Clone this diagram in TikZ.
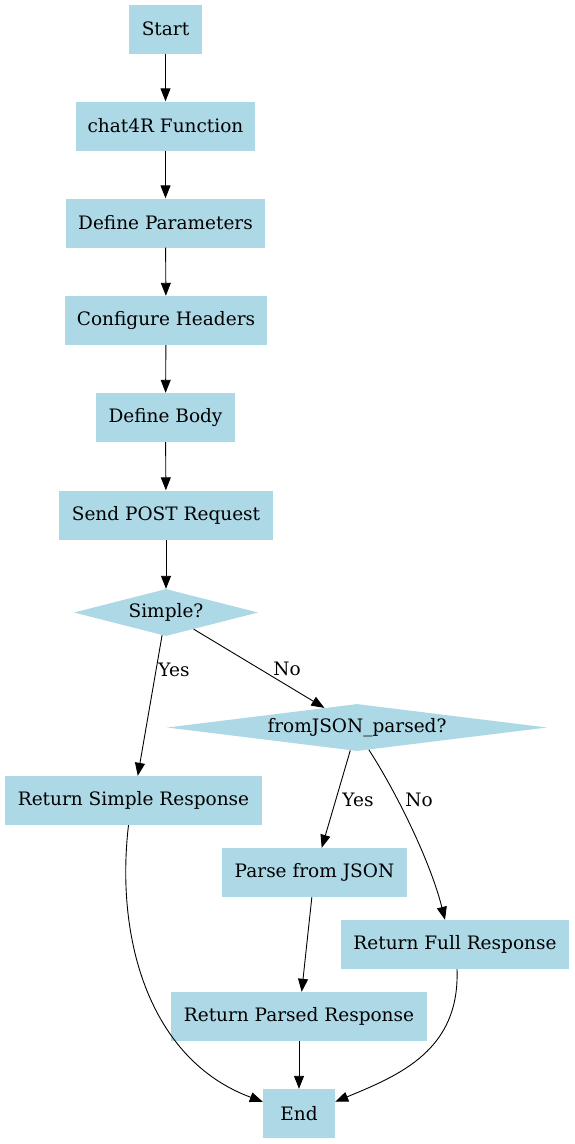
\documentclass[tikz,border=0pt]{standalone}
\usepackage{fontspec}
\setmainfont{DejaVu Serif}
\usetikzlibrary{shapes.geometric,arrows.meta,calc}
\definecolor{lblue}{HTML}{ADD8E6}
\begin{document}
\begin{tikzpicture}[x=1pt,y=-1pt,
  txt/.style={font=\fontsize{18.5}{21}\selectfont},
  boxn/.style={txt,fill=lblue,draw=none,inner sep=0pt,minimum height=49pt},
  decn/.style={txt,diamond,fill=lblue,draw=none,inner sep=0pt},
  lbl/.style={txt,inner sep=0pt},
  arr/.style={-{Triangle[length=13pt,width=10pt]},line width=0.9pt}]
\useasboundingbox (0,0) rectangle (575,1144);
\node[boxn,minimum width=73pt] (start) at (165.5,29) {Start};
\node[boxn,minimum width=179pt] (chat) at (165.5,126) {chat4R Function};
\node[boxn,minimum width=199pt] (params) at (165.5,223) {Define Parameters};
\node[boxn,minimum width=202pt] (headers) at (166,320.5) {Configure Headers};
\node[boxn,minimum width=139pt] (body) at (165.5,417.5) {Define Body};
\node[boxn,minimum width=214pt] (post) at (166,515) {Send POST Request};
\node[decn,aspect=4,minimum width=184pt,minimum height=47pt] (simple) at (166,612.5) {Simple?};
\node[decn,aspect=9,minimum width=380pt,minimum height=47pt] (fj) at (357,727.5) {fromJSON\_parsed?};
\node[boxn,minimum width=257pt] (rsimple) at (133.5,800.5) {Return Simple Response};
\node[boxn,minimum width=185pt] (parse) at (314.5,872.5) {Parse from JSON};
\node[boxn,minimum width=228pt] (rfull) at (455,944.5) {Return Full Response};
\node[boxn,minimum width=256pt] (rparsed) at (299,1016.5) {Return Parsed Response};
\node[boxn,minimum width=72pt] (end) at (299,1113.5) {End};
\draw[arr] (start) -- (chat);
\draw[arr] (chat) -- (params);
\draw[arr] (params) -- (headers);
\draw[arr] (headers) -- (body);
\draw[arr] (body) -- (post);
\draw[arr] (post) -- (simple);
\draw[arr] (simple) -- (rsimple);
\node[lbl] (yes1) at (174,670) {Yes};
\draw[arr] (simple) -- (fj);
\node[lbl] (no1) at (287,669) {No};
\draw[arr] (fj) -- (parse);
\node[lbl] (yes2) at (358,800) {Yes};
\draw[arr] (fj.-62) .. controls (395,790) and (430,860) .. ($(rfull.north)+(-10,0)$);
\node[lbl] (no2) at (419,800) {No};
\draw[arr] (parse) -- (rparsed);
\draw[arr] (rparsed) -- (end);
\draw[arr] ($(rsimple.south)+(-5,0)$) .. controls (115,940) and (150,1060) .. (end.162);
\draw[arr] ($(rfull.south)+(2,0)$) .. controls (460,1050) and (400,1075) .. (end.18);
\end{tikzpicture}
\end{document}
